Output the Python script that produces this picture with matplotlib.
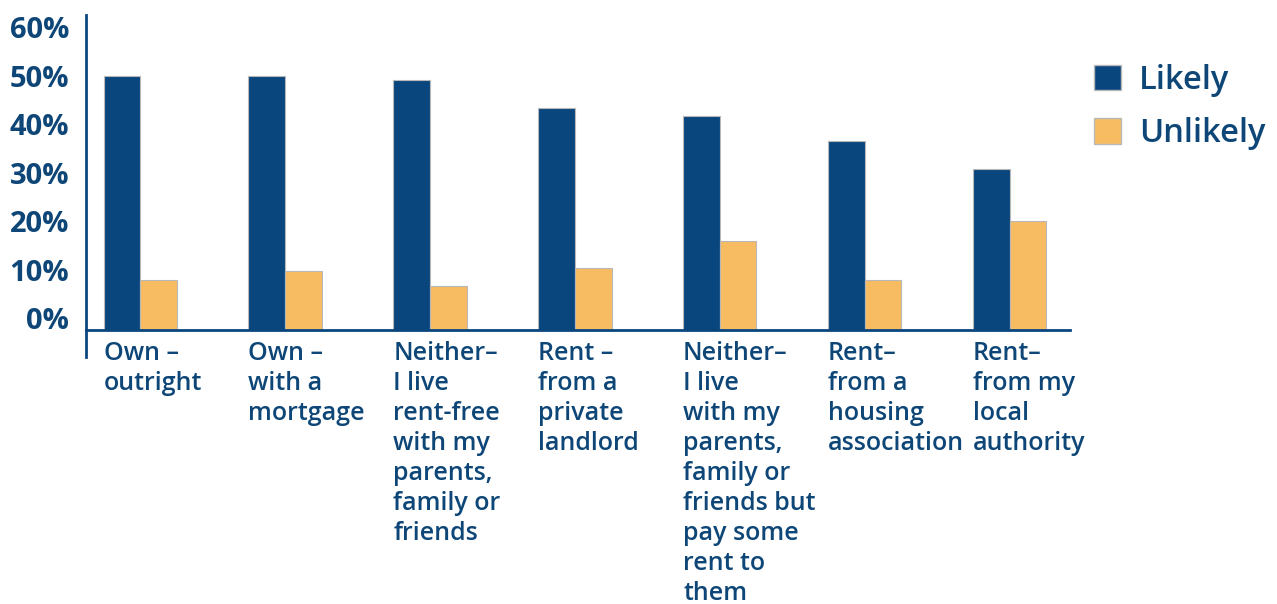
import numpy as np
import matplotlib.pyplot as plt
from matplotlib.patches import Patch

categories = [
    "Own –\noutright",
    "Own –\nwith a\nmortgage",
    "Neither–\nI live\nrent-free\nwith my\nparents,\nfamily or\nfriends",
    "Rent –\nfrom a\nprivate\nlandlord",
    "Neither–\nI live\nwith my\nparents,\nfamily or\nfriends but\npay some\nrent to\nthem",
    "Rent–\nfrom a\nhousing\nassociation",
    "Rent–\nfrom my\nlocal\nauthority",
]
likely = [50.0, 50.0, 49.1, 43.4, 41.6, 36.5, 30.7]
unlikely = [7.8, 9.7, 6.7, 10.4, 15.9, 7.8, 20.1]
yticks = [0, 10, 20, 30, 40, 50, 60]

NAVY = "#0A467E"
GOLD = "#F7BC62"
TEXT = "#0D4677"

plt.rcParams['font.family'] = ['Open Sans', 'DejaVu Sans']

fig = plt.figure(figsize=(12.77, 6.04), dpi=100)
ax = fig.add_axes([86 / 1277, 274 / 604, 984 / 1277, 315 / 604])

floor = -2.4
w = 0.253
x = np.arange(len(categories))
ax.bar(x - w / 2, np.array(likely) - floor, w, bottom=floor, color=NAVY,
       edgecolor="#B8B8B8", linewidth=0.8, zorder=2)
ax.bar(x + w / 2, np.array(unlikely) - floor, w, bottom=floor, color=GOLD,
       edgecolor="#B8B8B8", linewidth=0.8, zorder=2)

ax.set_xlim(-0.374, 6.417)
ax.set_ylim(floor, 62.5)

ax.set_yticks(yticks)
ax.set_yticklabels([f"{t}%" for t in yticks], fontsize=21, fontweight='bold',
                   color=TEXT)
ax.set_xticks(x - w)
ax.set_xticklabels(categories, fontsize=18, fontweight='semibold', color=TEXT,
                   ha='left', linespacing=1.26)
ax.tick_params(axis='y', length=0, pad=12)
ax.tick_params(axis='x', length=0, pad=8)

for side in ('top', 'right'):
    ax.spines[side].set_visible(False)
for side in ('left', 'bottom'):
    ax.spines[side].set_color(NAVY)
    ax.spines[side].set_linewidth(2)
ax.spines['left'].set_bounds(-8, 62.5)

handles = [Patch(facecolor=NAVY, edgecolor="#B8B8B8", label="Likely"),
           Patch(facecolor=GOLD, edgecolor="#B8B8B8", label="Unlikely")]
leg = fig.legend(handles=handles, loc='upper left',
                 bbox_to_anchor=(1094 / 1277, 1 - 64 / 604), frameon=False,
                 prop={'size': 23.5, 'weight': 'semibold'},
                 handlelength=0.82, handleheight=0.82, handletextpad=0.55,
                 labelspacing=0.62, borderpad=0, borderaxespad=0)
for t in leg.get_texts():
    t.set_color(TEXT)

fig.savefig("out.png", dpi=100)
